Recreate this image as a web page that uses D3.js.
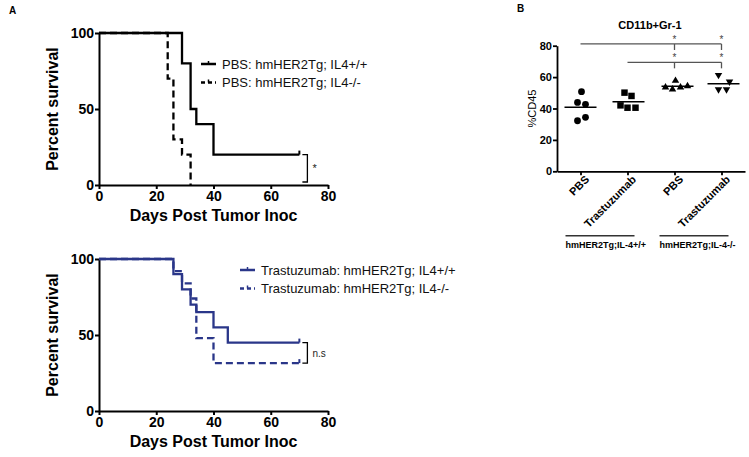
<!DOCTYPE html>
<html lang="en">
<head>
<meta charset="utf-8">
<title>Survival and CD11b+Gr-1</title>
<script src="https://cdn.jsdelivr.net/npm/d3@7"></script>
<style>
  body { margin: 0; background: #fff; }
  svg { font-family: Arial, "Liberation Sans", sans-serif; }
  .axis path, .axis line { stroke: #000; stroke-width: 2px; }
  .axis text { font-weight: bold; fill: #000; }
</style>
</head>
<body>
<svg width="749" height="457"></svg>
<script>
// ---- panel A data: [day, percent survival]
var dayTicks = [0, 20, 40, 60, 80];
var pctTicks = [0, 50, 100];
var pbsWT = [[0, 100], [29, 80], [32, 50], [34, 40], [40, 20], [70, 20]];
var pbsKO = [[0, 100], [24, 70], [26, 30], [29, 20], [32, 0]];
var trasWT = [[0, 100], [26, 90], [29, 80], [32, 70], [34, 65], [40, 55], [45, 45], [70, 45]];
var trasKO = [[0, 100], [26, 92], [29, 84], [32, 74], [34, 48], [40, 31.5], [70, 31.5]];
var topLabels = ["PBS: hmHER2Tg; IL4+/+", "PBS: hmHER2Tg; IL4-/-"];
var bottomLabels = ["Trastuzumab: hmHER2Tg; IL4+/+", "Trastuzumab: hmHER2Tg; IL4-/-"];

// ---- panel B data: %CD45 per mouse
var groups = ["PBS", "Trastuzumab", "PBS", "Trastuzumab"];
var cd45Ticks = [0, 20, 40, 60, 80];
var cd45Values = [
  [50.7, 43.9, 42.7, 32.2, 34.4],
  [50.1, 48.0, 42.0, 40.5, 40.5],
  [57.7, 53.5, 52.2, 53.5, 54.3],
  [61.3, 57.1, 52.2, 52.2]
];
var genotypes = ["hmHER2Tg;IL-4+/+", "hmHER2Tg;IL-4-/-"];

var svg = d3.select("svg");
svg.append("rect").attr("width", 749).attr("height", 457).attr("fill", "#fff");

var x = d3.scaleLinear().domain([0, 80]).range([99, 328]);

function survivalPanel(y0, y1, series, labels, color, legendY, mark) {
  var y = d3.scaleLinear().domain([0, 100]).range([y0, y1]);
  var g = svg.append("g");

  g.append("g").attr("class", "axis")
    .attr("transform", "translate(0," + y0 + ")")
    .call(d3.axisBottom(x).tickValues(dayTicks).tickSize(4).tickSizeOuter(0).tickPadding(2))
    .selectAll("text").attr("font-size", "14px");
  g.append("g").attr("class", "axis")
    .attr("transform", "translate(" + x(0) + ",0)")
    .call(d3.axisLeft(y).tickValues(pctTicks).tickSize(4).tickSizeOuter(0).tickPadding(1))
    .selectAll("text").attr("font-size", "14px");

  g.append("text")
    .attr("x", (x(0) + x(80)) / 2).attr("y", y0 + 36)
    .attr("text-anchor", "middle").attr("font-size", "16px").attr("font-weight", "bold")
    .text("Days Post Tumor Inoc");
  g.append("text")
    .attr("transform", "translate(58," + ((y0 + y1) / 2) + ") rotate(-90)")
    .attr("text-anchor", "middle").attr("font-size", "16px").attr("font-weight", "bold")
    .text("Percent survival");

  var line = d3.line()
    .x(function(d) { return x(d[0]); })
    .y(function(d) { return y(d[1]); })
    .curve(d3.curveStepAfter);

  series.forEach(function(s, i) {
    var dash = i == 1 ? "7,4" : null;
    g.append("path").datum(s)
      .attr("fill", "none").attr("stroke", color)
      .attr("stroke-width", 2.3).attr("stroke-dasharray", dash)
      .attr("d", line);
    // censor tick at last point
    var last = s[s.length - 1];
    if (last[1] > 0) {
      g.append("line")
        .attr("x1", x(last[0])).attr("x2", x(last[0]))
        .attr("y1", y(last[1])).attr("y2", y(last[1]) - 4)
        .attr("stroke", color).attr("stroke-width", 2);
    }
    // legend
    var ly = legendY + i * 18.5;
    var lx = x(0) + (labels[0].length > 22 ? 141 : 102);
    g.append("line")
      .attr("x1", lx).attr("x2", lx + 15).attr("y1", ly).attr("y2", ly)
      .attr("stroke", color).attr("stroke-width", 2.5).attr("stroke-dasharray", i == 1 ? "4,3" : null);
    g.append("line")
      .attr("x1", lx + 7.5).attr("x2", lx + 7.5).attr("y1", ly).attr("y2", ly - 3)
      .attr("stroke", color).attr("stroke-width", 1.5);
    g.append("text")
      .attr("x", lx + 21).attr("y", ly + 4.5)
      .attr("font-size", "13px").attr("fill", "#111")
      .text(labels[i]);
  });

  // significance bracket between end levels
  var ya = y(series[0][series[0].length - 1][1]);
  var yb = series === topSeries ? y(0) - 3 : y(series[1][series[1].length - 1][1]);
  var bx = x(72.8);
  g.append("path")
    .attr("d", "M" + (bx - 5) + "," + ya + "H" + bx + "V" + yb + "H" + (bx - 5))
    .attr("fill", "none").attr("stroke", "#000").attr("stroke-width", 1.3);
  g.append("text")
    .attr("x", bx + 5).attr("y", (ya + yb) / 2 + 4)
    .attr("font-size", mark == "*" ? "11px" : "10px").attr("fill", "#222")
    .text(mark);
}

var topSeries = [pbsWT, pbsKO];
survivalPanel(185, 33, topSeries, topLabels, "#000", 64, "*");
survivalPanel(411, 259, [trasWT, trasKO], bottomLabels, "#2a3689", 270, "n.s");

svg.append("text").attr("x", 9).attr("y", 14)
  .attr("font-size", "10px").attr("font-weight", "bold").text("A");
svg.append("text").attr("x", 517).attr("y", 12)
  .attr("font-size", "10px").attr("font-weight", "bold").text("B");

// ---- panel B
var bx = d3.scalePoint().domain(d3.range(groups.length)).range([557, 745]).padding(0.5);
var by = d3.scaleLinear().domain([0, 80]).range([171.3, 45.7]);
var gb = svg.append("g");

gb.append("g").attr("class", "axis")
  .attr("transform", "translate(0," + by(0) + ")")
  .call(d3.axisBottom(bx).tickSize(4).tickSizeOuter(0).tickFormat(function(i) { return groups[i]; }))
  .selectAll("text")
  .attr("font-size", "11px")
  .attr("text-anchor", "end")
  .attr("transform", "translate(4,4) rotate(-45)")
  .attr("dy", "0.35em").attr("dx", "0").attr("y", 3).attr("x", 0);
gb.append("g").attr("class", "axis")
  .attr("transform", "translate(557,0)")
  .call(d3.axisLeft(by).tickValues(cd45Ticks).tickSize(4).tickSizeOuter(0).tickPadding(1))
  .selectAll("text").attr("font-size", "11px");
gb.selectAll(".axis path, .axis line").style("stroke-width", "1.8px");

gb.append("text")
  .attr("x", 650).attr("y", 29).attr("text-anchor", "middle")
  .attr("font-size", "11px").attr("font-weight", "bold").text("CD11b+Gr-1");
gb.append("text")
  .attr("transform", "translate(536," + by(40) + ") rotate(-90)")
  .attr("text-anchor", "middle").attr("font-size", "11px").text("%CD45");

// horizontal scatter offsets (px) as in the original
var jitter = [[1, -3, 5, -3, 5], [-3, 4, -7, 0, 8], [1, -9, -2, 6, 13], [-3, 8, -3, 5]];
var shapes = [d3.symbolCircle, d3.symbolSquare, d3.symbolTriangle, d3.symbolTriangle];
var sizes = [36, 42, 24, 24];
var meanCenter = [0, 1, 3, 2];

cd45Values.forEach(function(vals, gi) {
  var sym = d3.symbol().type(shapes[gi]).size(sizes[gi]);
  gb.selectAll(".pt" + gi).data(vals).enter().append("path")
    .attr("d", sym)
    .attr("fill", "#000")
    .attr("transform", function(v, j) {
      return "translate(" + (bx(gi) + jitter[gi][j]) + "," + by(v) + ")" + (gi == 3 ? " rotate(180)" : "");
    });
  var m = d3.mean(vals);
  gb.append("line")
    .attr("x1", bx(gi) - 16 + meanCenter[gi]).attr("x2", bx(gi) + 16 + meanCenter[gi])
    .attr("y1", by(m)).attr("y2", by(m))
    .attr("stroke", "#000").attr("stroke-width", 1.5);
});

// significance lines
var sig = [{ from: 0, level: 81.1 }, { from: 1, level: 69.4 }];
sig.forEach(function(s) {
  var yy = by(s.level);
  gb.append("line").attr("x1", bx(s.from)).attr("x2", bx(3))
    .attr("y1", yy).attr("y2", yy).attr("stroke", "#555").attr("stroke-width", 1.3);
  [2, 3].forEach(function(t) {
    gb.append("line").attr("x1", bx(t)).attr("x2", bx(t))
      .attr("y1", yy).attr("y2", yy + 6).attr("stroke", "#555").attr("stroke-width", 1.3);
    gb.append("text").attr("x", bx(t)).attr("y", yy - 1)
      .attr("text-anchor", "middle").attr("font-size", "10px").attr("fill", "#444").text("*");
  });
});

// genotype underlines
genotypes.forEach(function(lab, k) {
  var xa = bx(k * 2) - 15, xb = bx(k * 2 + 1) + 7;
  gb.append("line").attr("x1", xa).attr("x2", xb).attr("y1", 235.7).attr("y2", 235.7)
    .attr("stroke", "#333").attr("stroke-width", 1.5);
  gb.append("text").attr("x", xa).attr("y", 248)
    .attr("font-size", "9px").attr("font-weight", "bold").text(lab);
});
</script>
</body>
</html>
